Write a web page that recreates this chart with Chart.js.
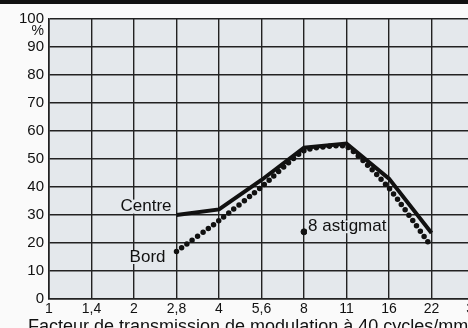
<!DOCTYPE html>
<html>
<head>
<meta charset="utf-8">
<script src="https://cdn.jsdelivr.net/npm/chart.js@4"></script>
<style>
  html, body { margin: 0; padding: 0; background: #fafafa; overflow: hidden; }
  .wrap { position: relative; width: 500px; height: 328px; }
  .topbar { position: absolute; left: 0; top: 0; width: 468px; height: 4px; background: #111; }
</style>
</head>
<body>
<div class="wrap">
  <canvas id="myChart" width="500" height="328"></canvas>
  <div class="topbar"></div>
</div>
<script>
const $ = (el) => document.querySelector(el);

// diaphragm stops (f-number)
const stops = ["1", "1,4", "2", "2,8", "4", "5,6", "8", "11", "16", "22", "32"];
// MTF % at 40 cycles/mm
const centre = [null, null, null, 30, 32, 42.5, 54, 55.5, 43, 23.6, null];
const bord = [null, null, null, 17, 28, 40, 53, 54.5, 39.6, 18.6, null];
const astigmat = [null, null, null, null, null, null, 24, null, null, null, null];
const yTicks = [0, 10, 20, 30, 40, 50, 60, 70, 80, 90, 100];
const xTitle = "Facteur de transmission de modulation à 40 cycles/mm";

const font = "Liberation Sans, Arial, sans-serif";
const bg = "#e4e8ec";

const plotBg = {
  id: "plotBg",
  beforeDraw(chart) {
    const { ctx, chartArea: a } = chart;
    ctx.save();
    ctx.fillStyle = bg;
    ctx.fillRect(a.left, a.top, a.right - a.left, a.bottom - a.top);
    ctx.restore();
  },
};

// text with a plain patch behind it so the grid doesn't run through
const label = (ctx, text, x, y, align) => {
  const w = ctx.measureText(text).width;
  const left = align === "right" ? x - w : x;
  ctx.fillStyle = bg;
  ctx.fillRect(left - 1, y - 7, w + 2, 14);
  ctx.fillStyle = "#111";
  ctx.textAlign = align;
  ctx.fillText(text, x, y);
};

// curve names, unit and axis caption
const notes = {
  id: "notes",
  afterDatasetsDraw(chart) {
    const { ctx, scales } = chart;
    const x = scales.x;
    const y = scales.y;
    ctx.save();
    ctx.textBaseline = "middle";
    ctx.font = "17px " + font;
    label(ctx, "Centre", x.getPixelForValue(3) - 5, y.getPixelForValue(33), "right");
    label(ctx, "Bord", x.getPixelForValue(3) - 11, y.getPixelForValue(15), "right");
    label(ctx, "8 astigmat", x.getPixelForValue(6) + 4, y.getPixelForValue(26), "left");
    ctx.restore();
  },
  afterDraw(chart) {
    const { ctx, scales } = chart;
    ctx.save();
    ctx.fillStyle = "#111";
    ctx.textBaseline = "middle";
    ctx.textAlign = "right";
    ctx.font = "14px " + font;
    ctx.fillText("%", scales.x.left - 5, scales.y.getPixelForValue(100) + 12);
    ctx.textAlign = "left";
    ctx.font = "18px " + font;
    ctx.fillText(xTitle, 28, 327);
    ctx.restore();
  },
};

const chartElement = $("#myChart");
const myChart = new Chart(chartElement, {
  type: "line",
  data: {
    labels: stops,
    datasets: [
      {
        label: "Centre",
        data: centre,
        borderColor: "#111",
        borderWidth: 4,
        pointRadius: 0,
        tension: 0,
      },
      {
        label: "Bord",
        data: bord,
        borderColor: "#111",
        borderWidth: 5.5,
        borderDash: [0, 6.5],
        borderCapStyle: "round",
        pointRadius: 0,
        tension: 0.15,
      },
      {
        label: "8 astigmat",
        data: astigmat,
        borderColor: "#111",
        backgroundColor: "#111",
        pointRadius: 3,
        showLine: false,
      },
    ],
  },
  options: {
    responsive: false,
    animation: false,
    layout: { padding: { top: 19, right: 26, left: 0, bottom: 0 } },
    plugins: { legend: { display: false }, tooltip: { enabled: false } },
    scales: {
      x: {
        offset: false,
        grid: { color: "#222", lineWidth: 1.4, drawTicks: false },
        border: { color: "#222", width: 1.6 },
        ticks: {
          color: "#111",
          font: { family: font, size: 14 },
          padding: 2,
          maxRotation: 0,
          autoSkip: false,
        },
        afterFit: (s) => { s.height = 29; },
      },
      y: {
        min: 0,
        max: 100,
        afterBuildTicks: (s) => { s.ticks = yTicks.map((v) => ({ value: v })); },
        grid: { color: "#222", lineWidth: 1.4, drawTicks: false },
        border: { color: "#222", width: 1.6 },
        ticks: {
          color: "#111",
          font: { family: font, size: 15 },
          padding: 5,
        },
        afterFit: (s) => { s.width = 49; },
      },
    },
  },
  plugins: [plotBg, notes],
});
</script>
</body>
</html>
